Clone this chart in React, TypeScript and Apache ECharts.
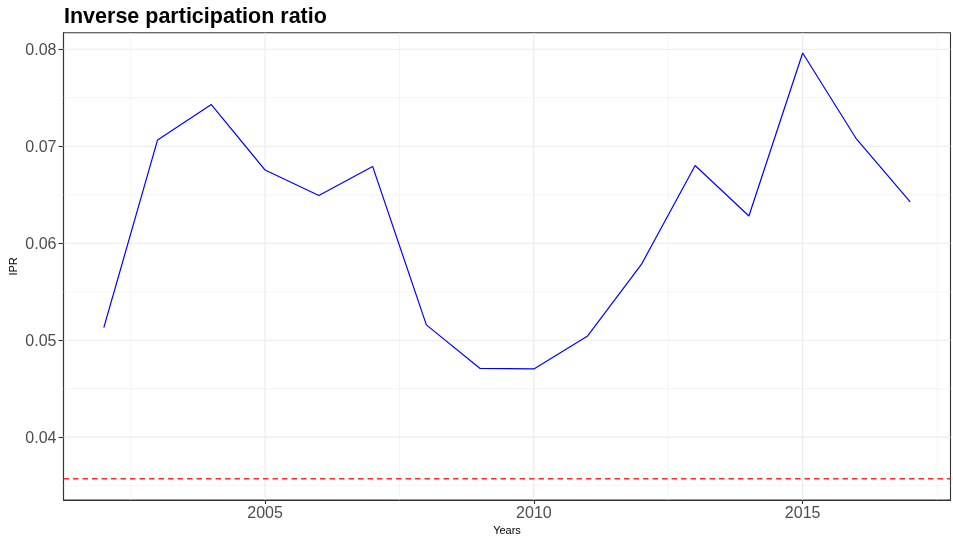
import React, { useEffect, useRef } from "react";
import * as echarts from "echarts";

const years = [2002, 2003, 2004, 2005, 2006, 2007, 2008, 2009, 2010, 2011, 2012, 2013, 2014, 2015, 2016, 2017];
const ipr = [0.0513, 0.07065, 0.0743, 0.06755, 0.06492, 0.06792, 0.05158, 0.04709, 0.04704, 0.05044, 0.05781, 0.06802, 0.06281, 0.07962, 0.07075, 0.06426];
const baseline = 0.035714;
const xRange = [2001.25, 2017.75];
const yRange = [0.03352, 0.08171];
const xTicks = [2005, 2010, 2015];
const xMinor = [2002.5, 2007.5, 2012.5, 2017.5];
const yTicks = [0.04, 0.05, 0.06, 0.07, 0.08];
const yMinor = [0.035, 0.045, 0.055, 0.065, 0.075];
const titleText = "Inverse participation ratio";
const xName = "Years";
const yName = "IPR";

const FONT = "'Liberation Sans', Arial, Helvetica, sans-serif";

function segSeries(points: number[][], color: string, width: number, type: any, z: number) {
  return {
    type: "line",
    data: points,
    z,
    silent: true,
    showSymbol: false,
    symbol: "none",
    clip: true,
    lineStyle: { color, width, type },
    itemStyle: { color },
    emphasis: { disabled: true },
  };
}

export default function App() {
  const ref = useRef<HTMLDivElement>(null);
  useEffect(() => {
    if (!ref.current) return;
    const chart = echarts.init(ref.current, undefined, { renderer: "svg" });
    const series: any[] = [];
    xMinor.forEach((v) => series.push(segSeries([[v, yRange[0]], [v, yRange[1]]], "#ebebeb", 0.55, "solid", 1)));
    yMinor.forEach((v) => series.push(segSeries([[xRange[0], v], [xRange[1], v]], "#ebebeb", 0.55, "solid", 1)));
    xTicks.forEach((v) => series.push(segSeries([[v, yRange[0]], [v, yRange[1]]], "#ebebeb", 1.1, "solid", 1)));
    yTicks.forEach((v) => series.push(segSeries([[xRange[0], v], [xRange[1], v]], "#ebebeb", 1.1, "solid", 1)));
    series.push(segSeries([[xRange[0], baseline], [xRange[1], baseline]], "#ff2a2a", 1.4, [5.5, 4], 3));
    series.push({
      type: "line",
      z: 4,
      data: years.map((y, i) => [y, ipr[i]]),
      showSymbol: false,
      symbol: "none",
      lineStyle: { color: "#0000ff", width: 1.2 },
      itemStyle: { color: "#0000ff" },
      emphasis: { disabled: true },
    });

    chart.setOption({
      animation: false,
      textStyle: { fontFamily: FONT },
      title: {
        text: titleText,
        left: 59,
        top: 0,
        textStyle: { fontFamily: FONT, fontSize: 21.5, fontWeight: "bold", color: "#000000" },
      },
      grid: {
        left: 63.5,
        right: 2.5,
        top: 32.7,
        bottom: 38,
        show: true,
        borderColor: "#333333",
        borderWidth: 1.1,
        backgroundColor: "#ffffff",
        containLabel: false,
        outerBoundsMode: "none",
      },
      xAxis: {
        type: "value",
        min: xRange[0],
        max: xRange[1],
        name: xName,
        nameLocation: "middle",
        nameGap: 24.5,
        nameMoveOverlap: false,
        nameTextStyle: { color: "#000000", fontSize: 11, fontFamily: FONT },
        axisLine: { show: true, lineStyle: { color: "#333333", width: 1.1 } },
        splitLine: { show: false },
        axisTick: { show: true, customValues: xTicks, length: 4, lineStyle: { color: "#333333", width: 1.1 } },
        axisLabel: { customValues: xTicks, color: "#4d4d4d", fontSize: 16, margin: 4, fontFamily: FONT, formatter: (v: number) => String(v) },
      },
      yAxis: {
        type: "value",
        min: yRange[0],
        max: yRange[1],
        name: yName,
        nameLocation: "middle",
        nameGap: 45,
        nameMoveOverlap: false,
        nameRotate: 90,
        nameTextStyle: { color: "#000000", fontSize: 11, fontFamily: FONT },
        axisLine: { show: true, lineStyle: { color: "#333333", width: 1.1 } },
        splitLine: { show: false },
        axisTick: { show: true, customValues: yTicks, length: 5, lineStyle: { color: "#333333", width: 1.1 } },
        axisLabel: { customValues: yTicks, color: "#4d4d4d", fontSize: 16, margin: 7, fontFamily: FONT, formatter: (v: number) => v.toFixed(2) },
      },
      series,
    });
    return () => chart.dispose();
  }, []);
  return <div ref={ref} style={{ position: "fixed", left: 0, top: 0, width: 953, height: 538 }} />;
}
